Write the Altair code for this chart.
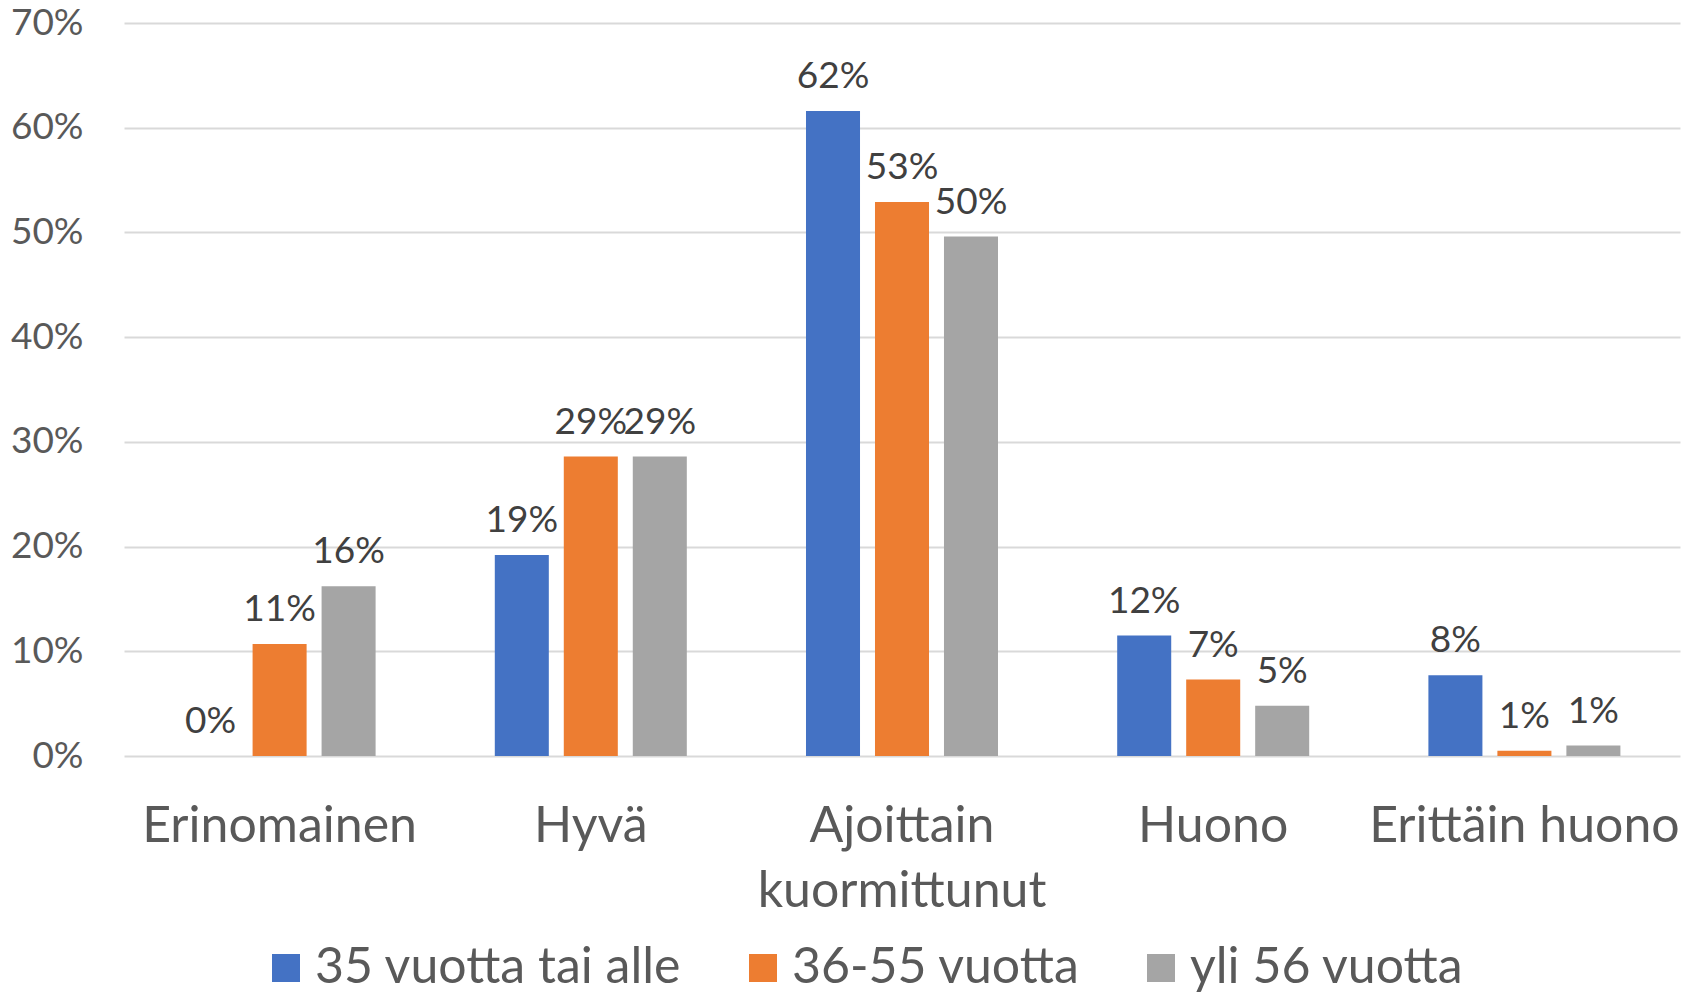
import altair as alt
import pandas as pd

categories = ["Erinomainen", "Hyvä", "Ajoittain kuormittunut", "Huono", "Erittäin huono"]
series = ["35 vuotta tai alle", "36-55 vuotta", "yli 56 vuotta"]
values_35 = [0.0, 19.2, 61.6, 11.5, 7.7]
values_36_55 = [10.7, 28.6, 52.9, 7.3, 0.5]
values_56 = [16.2, 28.6, 49.6, 4.8, 1.0]
labels_35 = ["0%", "19%", "62%", "12%", "8%"]
labels_36_55 = ["11%", "29%", "53%", "7%", "1%"]
labels_56 = ["16%", "29%", "50%", "5%", "1%"]
colors = ["#4472C4", "#ED7D31", "#A5A5A5"]
y_ticks = [0, 10, 20, 30, 40, 50, 60, 70]

rows = []
for s, vals, labs in zip(series, [values_35, values_36_55, values_56],
                         [labels_35, labels_36_55, labels_56]):
    for c, v, l in zip(categories, vals, labs):
        rows.append({"category": c, "series": s, "value": v, "label": l})
df = pd.DataFrame(rows)

FONT = "Lato"

base = alt.Chart(df).encode(
    x=alt.X(
        "category:N",
        sort=categories,
        scale=alt.Scale(paddingInner=0.383, paddingOuter=0.1915),
        axis=alt.Axis(
            title=None,
            labelAngle=0,
            labelFont=FONT,
            labelFontSize=50,
            labelColor="#595959",
            labelBaseline="alphabetic",
            labelPadding=85,
            labelLineHeight=65,
            labelLimit=1000,
            labelOverlap=False,
            labelExpr="datum.label == 'Ajoittain kuormittunut' ? ['Ajoittain', 'kuormittunut'] : datum.label",
            domain=False,
            ticks=False,
        ),
    ),
    xOffset=alt.XOffset(
        "series:N", sort=series, scale=alt.Scale(paddingInner=0.217, paddingOuter=0)
    ),
    y=alt.Y(
        "value:Q",
        scale=alt.Scale(domain=[0, 70], nice=False),
        axis=alt.Axis(
            title=None,
            values=y_ticks,
            labelExpr="datum.value + '%'",
            labelFont=FONT,
            labelFontSize=37,
            labelColor="#595959",
            labelPadding=41,
            grid=True,
            gridColor="#D9D9D9",
            gridWidth=2,
            domain=False,
            ticks=False,
        ),
    ),
)

bars = base.mark_bar().encode(
    color=alt.Color(
        "series:N",
        sort=series,
        scale=alt.Scale(domain=series, range=colors),
        legend=alt.Legend(
            title=None,
            orient="none",
            legendX=137,
            legendY=920,
            direction="horizontal",
            symbolType="square",
            symbolSize=784,
            symbolStrokeWidth=0,
            labelFont=FONT,
            labelFontSize=50,
            labelColor="#595959",
            labelOffset=4,
            labelLimit=1000,
            columnPadding=56,
            padding=0,
        ),
    )
)

text = base.mark_text(
    dy=-23, baseline="alphabetic", align="center", font=FONT, fontSize=37, color="#404040"
).encode(text="label:N")

chart = (
    alt.layer(bars, text)
    .properties(
        width=1556,
        height=733,
        autosize=alt.AutoSizeParams(type="none"),
        padding={"left": 116, "top": 15, "right": 8, "bottom": 239},
    )
    .configure_view(stroke=None)
)

chart.save("out.html", embed_options={"renderer": "svg", "actions": False})
